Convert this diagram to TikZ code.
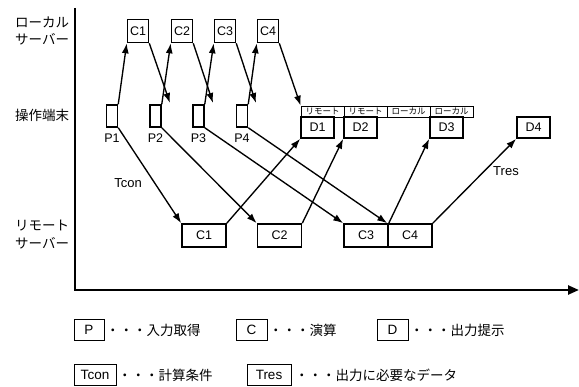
\documentclass[tikz,border=0pt]{standalone}
\usepackage{fontspec}
\setmainfont{Liberation Sans}
\newfontfamily\jp{Noto Sans CJK JP}
\usetikzlibrary{arrows.meta}
\begin{document}
\begin{tikzpicture}[x=1pt,y=-1pt,
  lat/.style={font=\fontsize{12.5}{13}\selectfont},
  box/.style={draw, line width=1.6pt, inner sep=0pt, lat},
  lc/.style={box, minimum width=21pt, minimum height=23pt},
  pbox/.style={draw, line width=1.5pt, inner sep=0pt, minimum width=11pt, minimum height=22pt},
  rc/.style={box, minimum width=44pt, minimum height=23pt},
  dbox/.style={box, minimum width=33pt, minimum height=21pt},
  strip/.style={draw, line width=0.6pt, inner sep=0pt, minimum width=43pt, minimum height=11pt,
    font=\jp\fontsize{8.5}{9}\selectfont},
  axislabel/.style={anchor=west, inner sep=0pt, font=\jp\fontsize{13.5}{14}\selectfont},
  legbox/.style={draw, line width=0.7pt, inner sep=0pt, minimum height=21pt, font=\fontsize{13.5}{14}\selectfont},
  legtext/.style={anchor=west, inner sep=0pt, font=\jp\fontsize{13.5}{14}\selectfont},
  link/.style={line width=1.35pt, -{Latex[length=10pt,width=7pt]}},
  axis/.style={line width=2.4pt, -{Triangle[length=11pt,width=9pt]}},
]
\fill[white] (0,0) rectangle (579,387);
\useasboundingbox (0,0) rectangle (579,387);

% time axis
\coordinate (ytop) at (75,8);
\coordinate (origin) at (75,290);
\coordinate (xend) at (579,290);
\draw[axis] (ytop) -- (origin) -- (xend);

% row labels
\node[axislabel] (l1) at (15,22) {ローカル};
\node[axislabel] (l2) at (15,39) {サーバー};
\node[axislabel] (l3) at (15,115) {操作端末};
\node[axislabel] (l4) at (15,226) {リモート};
\node[axislabel] (l5) at (15,243) {サーバー};

% local server computations
\node[lc] (lc1) at (138,31) {C1};
\node[lc] (lc2) at (182,31) {C2};
\node[lc] (lc3) at (225,31) {C3};
\node[lc] (lc4) at (268,31) {C4};

% terminal input
\node[pbox] (p1) at (112,116) {};
\node[pbox] (p2) at (155.5,116) {};
\node[pbox] (p3) at (198.5,116) {};
\node[pbox] (p4) at (242,116) {};
\node[lat] (pl1) at (112,138) {P1};
\node[lat] (pl2) at (155.5,138) {P2};
\node[lat] (pl3) at (198.5,138) {P3};
\node[lat] (pl4) at (242,138) {P4};

% terminal output and its source
\node[strip] (s1) at (322.5,111.5) {リモート};
\node[strip] (s2) at (365.5,111.5) {リモート};
\node[strip] (s3) at (408.5,111.5) {ローカル};
\node[strip] (s4) at (451.5,111.5) {ローカル};
\node[dbox] (d1) at (317.5,127.5) {D1};
\node[dbox] (d2) at (360.5,127.5) {D2};
\node[dbox] (d3) at (446.5,127.5) {D3};
\node[dbox] (d4) at (533.5,127.5) {D4};

% remote server computations
\node[rc] (rc1) at (204,235.5) {C1};
\node[rc] (rc2) at (279.5,235.5) {C2};
\node[rc] (rc3) at (366,235.5) {C3};
\node[rc] (rc4) at (410,235.5) {C4};

% results from the local server
\coordinate (e1) at (170,103);
\coordinate (e2) at (213,103);
\coordinate (e3) at (256,103);

% input to local server
\draw[link] (p1.north east) -- (lc1.south west);
\draw[link] (p2.north east) -- (lc2.south west);
\draw[link] (p3.north east) -- (lc3.south west);
\draw[link] (p4.north east) -- (lc4.south west);
\draw[link] (lc1.south east) -- (e1);
\draw[link] (lc2.south east) -- (e2);
\draw[link] (lc3.south east) -- (e3);
\draw[link] (lc4.south east) -- (s1.north west);

% input to remote server
\draw[link] (p1.south east) -- (rc1.north west);
\draw[link] (p2.south east) -- (rc2.north west);
\draw[link] (p3.south east) -- (rc3.north west);
\draw[link] (p4.south east) -- (rc4.north west);

% remote results to terminal
\draw[link] (rc1.north east) -- (d1.south west);
\draw[link] (rc2.north east) -- (d2.south west);
\draw[link] (rc3.north east) -- (d3.south west);
\draw[link] (rc4.north east) -- (d4.south west);

\node[font=\fontsize{13}{14}\selectfont] (tcon) at (128,183) {Tcon};
\node[font=\fontsize{13}{14}\selectfont] (tres) at (506,171) {Tres};

% legend
\node[legbox, minimum width=30pt] (kp) at (89,330) {P};
\node[legtext] (kpt) at (106,330) {・・・入力取得};
\node[legbox, minimum width=31pt] (kc) at (251.5,330) {C};
\node[legtext] (kct) at (269,330) {・・・演算};
\node[legbox, minimum width=31pt] (kd) at (392.5,330) {D};
\node[legtext] (kdt) at (410,330) {・・・出力提示};
\node[legbox, minimum width=42pt] (kt) at (95,375) {Tcon};
\node[legtext] (ktt) at (118,375) {・・・計算条件};
\node[legbox, minimum width=44pt] (kr) at (269,375) {Tres};
\node[legtext] (krt) at (295,375) {・・・出力に必要なデータ};
\end{tikzpicture}
\end{document}
